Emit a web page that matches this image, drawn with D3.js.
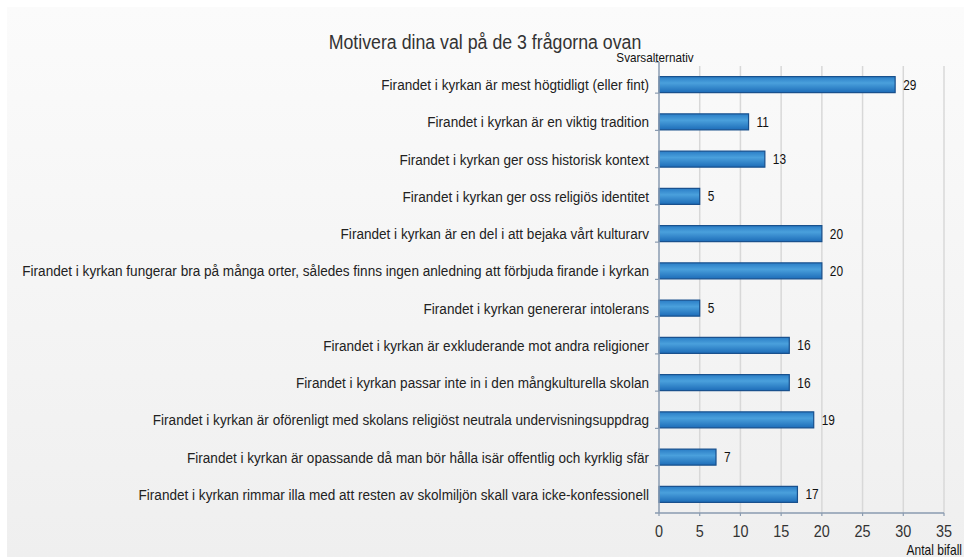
<!DOCTYPE html>
<html>
<head>
<meta charset="utf-8">
<script src="https://cdn.jsdelivr.net/npm/d3@7"></script>
<style>
  body { margin: 0; background: #fff; }
  svg { display: block; }
</style>
</head>
<body>
<svg id="chart" width="964" height="557"></svg>
<script>
const categories = [
  "Firandet i kyrkan är mest högtidligt (eller fint)",
  "Firandet i kyrkan är en viktig tradition",
  "Firandet i kyrkan ger oss historisk kontext",
  "Firandet i kyrkan ger oss religiös identitet",
  "Firandet i kyrkan är en del i att bejaka vårt kulturarv",
  "Firandet i kyrkan fungerar bra på många orter, således finns ingen anledning att förbjuda firande i kyrkan",
  "Firandet i kyrkan genererar intolerans",
  "Firandet i kyrkan är exkluderande mot andra religioner",
  "Firandet i kyrkan passar inte in i den mångkulturella skolan",
  "Firandet i kyrkan är oförenligt med skolans religiöst neutrala undervisningsuppdrag",
  "Firandet i kyrkan är opassande då man bör hålla isär offentlig och kyrklig sfär",
  "Firandet i kyrkan rimmar illa med att resten av skolmiljön skall vara icke-konfessionell"
];
const values = [29, 11, 13, 5, 20, 20, 5, 16, 16, 19, 7, 17];
const xTicks = [0, 5, 10, 15, 20, 25, 30, 35];

const svg = d3.select("#chart");
const font = "'Liberation Sans', Arial, sans-serif";
// narrow look of the original font
const sq = (px, py, s) => `translate(${px},${py}) scale(${s},1)`;

const defs = svg.append("defs");
let bg = defs.append("linearGradient").attr("id", "bg").attr("x1", 0).attr("y1", 0).attr("x2", 0).attr("y2", 1);
bg.append("stop").attr("offset", "0%").attr("stop-color", "#fbfbfb");
bg.append("stop").attr("offset", "100%").attr("stop-color", "#efefef");
let bar = defs.append("linearGradient").attr("id", "bar").attr("x1", 0).attr("y1", 0).attr("x2", 0).attr("y2", 1);
bar.append("stop").attr("offset", "0%").attr("stop-color", "#2a7dc6");
bar.append("stop").attr("offset", "40%").attr("stop-color", "#4aa0dc");
bar.append("stop").attr("offset", "100%").attr("stop-color", "#1d6cb8");

svg.append("rect").attr("x", 7).attr("y", 7).attr("width", 957).attr("height", 550).attr("fill", "url(#bg)");

const m = {left: 659, right: 944, top: 66, bottom: 513};

const x = d3.scaleLinear().domain([0, 35]).range([m.left, m.right]);
const y = d3.scaleBand().domain(categories).range([m.top, m.bottom]).paddingInner(0.57).paddingOuter(0.285);

// grid
svg.append("g").selectAll("line").data(xTicks.slice(1)).join("line")
  .attr("x1", d => x(d)).attr("x2", d => x(d))
  .attr("y1", m.top).attr("y2", m.bottom)
  .attr("stroke", "#d8d8d8").attr("stroke-width", 1.5);

// bars
svg.append("g").selectAll("rect").data(values).join("rect")
  .attr("x", x(0))
  .attr("y", (d, i) => y(categories[i]))
  .attr("width", d => x(d) - x(0))
  .attr("height", y.bandwidth())
  .attr("fill", "url(#bar)")
  .attr("stroke", "#174f8c").attr("stroke-width", 1.2);

// value labels
svg.append("g").selectAll("text").data(values).join("text")
  .attr("transform", (d, i) => sq(x(d) + 8, y(categories[i]) + y.bandwidth() / 2, 0.85))
  .attr("dy", "0.36em")
  .style("font", `14px ${font}`).attr("fill", "#111")
  .text(d => d);

// y axis
const yAxis = svg.append("g");
yAxis.append("line").attr("x1", m.left).attr("x2", m.left).attr("y1", m.top - 4).attr("y2", m.bottom)
  .attr("stroke", "#8a9bb0").attr("stroke-width", 1.5);
yAxis.append("line").attr("x1", m.left - 4).attr("x2", m.left).attr("y1", m.top - 4).attr("y2", m.top - 4)
  .attr("stroke", "#8a9bb0").attr("stroke-width", 1.2);
const step = y.step();
yAxis.selectAll("line.tk").data(categories.slice(1)).join("line").attr("class", "tk")
  .attr("x1", m.left - 4).attr("x2", m.left)
  .attr("y1", d => y(d) - step * 0.285 * 2 + 0.5).attr("y2", d => y(d) - step * 0.285 * 2 + 0.5)
  .attr("stroke", "#8a9bb0").attr("stroke-width", 1.2);
yAxis.selectAll("text").data(categories).join("text")
  .attr("transform", d => sq(m.left - 10, y(d) + y.bandwidth() / 2, 0.905))
  .attr("dy", "0.36em").attr("text-anchor", "end")
  .style("font", `15px ${font}`).attr("fill", "#222")
  .text(d => d);

// x axis
const xAxis = svg.append("g");
xAxis.append("line").attr("x1", m.left - 4).attr("x2", m.right).attr("y1", m.bottom).attr("y2", m.bottom)
  .attr("stroke", "#8a9bb0").attr("stroke-width", 1.5);
xAxis.selectAll("line.tk").data(xTicks).join("line").attr("class", "tk")
  .attr("x1", d => x(d)).attr("x2", d => x(d))
  .attr("y1", m.bottom).attr("y2", m.bottom + 3)
  .attr("stroke", "#8a9bb0").attr("stroke-width", 1.2);
xAxis.selectAll("text").data(xTicks).join("text")
  .attr("transform", d => sq(x(d), 537, 0.9))
  .attr("text-anchor", "middle")
  .style("font", `16px ${font}`).attr("fill", "#333")
  .text(d => d);

// titles
svg.append("text").attr("transform", sq(485, 49, 0.845)).attr("text-anchor", "middle")
  .style("font", `21px ${font}`).attr("fill", "#333")
  .text("Motivera dina val på de 3 frågorna ovan");
svg.append("text").attr("transform", sq(655, 62, 0.9)).attr("text-anchor", "middle")
  .style("font", `13px ${font}`).attr("fill", "#111")
  .text("Svarsalternativ");
svg.append("text").attr("transform", sq(962, 555, 0.86)).attr("text-anchor", "end")
  .style("font", `14px ${font}`).attr("fill", "#111")
  .text("Antal bifall");
</script>
</body>
</html>
